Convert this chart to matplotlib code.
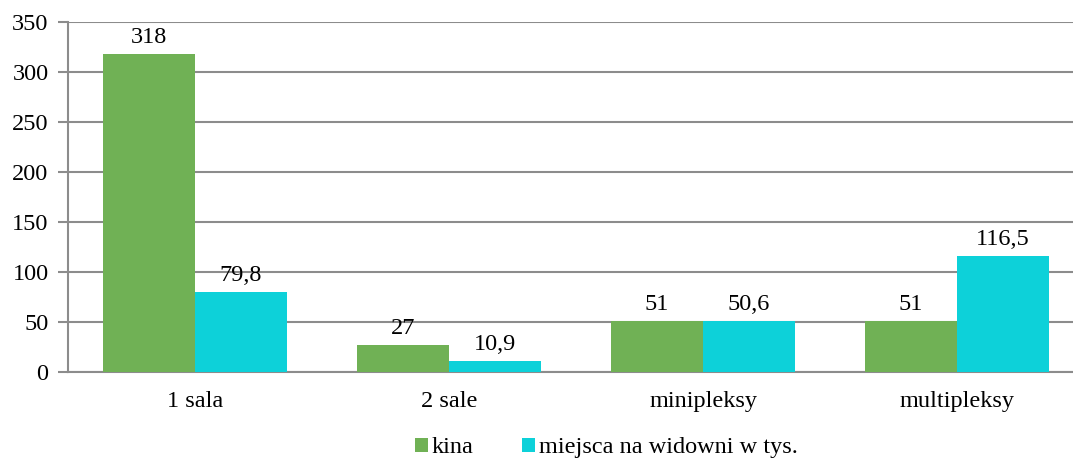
import matplotlib.pyplot as plt
import numpy as np

plt.rcParams['font.family'] = ['Liberation Serif', 'DejaVu Serif']

categories = ["1 sala", "2 sale", "minipleksy", "multipleksy"]
kina = [318, 27, 51, 51]
miejsca = [79.8, 10.9, 50.6, 116.5]
kina_labels = ["318", "27", "51", "51"]
miejsca_labels = ["79,8", "10,9", "50,6", "116,5"]

green = "#70b155"
cyan = "#0dd1d9"
grid = "#8c8c8c"
fs = 17.5

fig = plt.figure(figsize=(10.73, 4.61), dpi=100)
ax = fig.add_axes([0.0634, 0.193, 0.947, 0.759])

x = np.arange(len(categories))
w = 0.362
b1 = ax.bar(x - w / 2, kina, w, color=green, label="kina", zorder=3)
b2 = ax.bar(x + w / 2, miejsca, w, color=cyan, label="miejsca na widowni w tys.", zorder=3)

for bars, labs in ((b1, kina_labels), (b2, miejsca_labels)):
    for r, t in zip(bars, labs):
        ax.text(r.get_x() + r.get_width() / 2, r.get_height() + 6, t,
                ha="center", va="bottom", fontsize=fs)

ax.set_xlim(-0.5, 3.5)
ax.set_ylim(0, 350)
ax.set_yticks(range(0, 351, 50))
ax.set_xticks(x)
ax.set_xticklabels(categories)
ax.yaxis.grid(True, color=grid, lw=1.5, zorder=0)
ax.tick_params(axis="y", length=7, width=1.5, color=grid, labelsize=fs, pad=7)
ax.tick_params(axis="x", length=0, labelsize=fs, pad=14)
for s in ("top", "right"):
    ax.spines[s].set_visible(False)
ax.spines["left"].set_color(grid)
ax.spines["left"].set_linewidth(1.5)
ax.spines["bottom"].set_color(grid)
ax.spines["bottom"].set_linewidth(1.5)

fig.legend(loc="lower center", bbox_to_anchor=(0.565, -0.042), ncol=2, frameon=False,
           fontsize=fs, handlelength=0.55, handleheight=0.55, handletextpad=0.15,
           columnspacing=2.0)

fig.savefig("out.png", dpi=100)
